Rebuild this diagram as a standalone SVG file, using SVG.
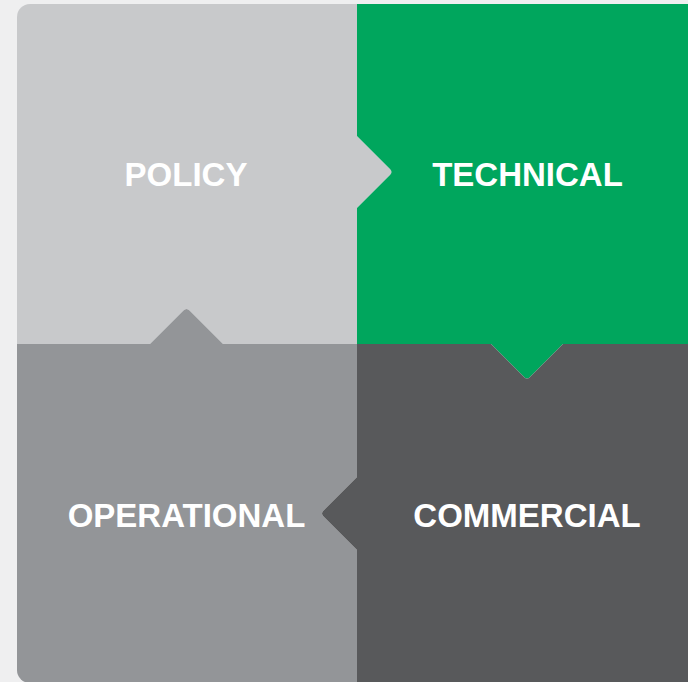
<svg xmlns="http://www.w3.org/2000/svg" width="688" height="682" viewBox="0 0 688 682">
  <style>
    .lbl { font-family: "Liberation Sans", Arial, sans-serif; font-weight: bold; font-size: 33px; fill: #ffffff; text-anchor: middle; }
  </style>
  <defs>
    <clipPath id="frame">
      <rect x="17" y="4" width="700" height="679" rx="13" ry="13"/>
    </clipPath>
  </defs>
  <rect x="0" y="0" width="688" height="682" fill="#efeff0"/>
  <g clip-path="url(#frame)">
    <g id="node-policy">
      <path fill="#c8c9cb" d="M17,4 H357 V136 L390,169 Q393,172 390,175 L357,208 V344 H223 L189.5,310.5 Q186.5,307.5 183.5,310.5 L150,344 H17 Z"/>
      <text class="lbl" x="186" y="185.5">POLICY</text>
    </g>
    <g id="node-technical">
      <path fill="#00a65d" d="M357,4 H720 V344 H563 L530,377 Q527,380 524,377 L491,344 H357 V208 L390,175 Q393,172 390,169 L357,136 Z"/>
      <text class="lbl" x="527.5" y="185.5">TECHNICAL</text>
    </g>
    <g id="node-operational">
      <path fill="#939598" d="M17,344 H150 L183.5,310.5 Q186.5,307.5 189.5,310.5 L223,344 H357 V477 L323.5,510.5 Q320.5,513.5 323.5,516.5 L357,550 V700 H17 Z"/>
      <text class="lbl" x="186.5" y="526.5">OPERATIONAL</text>
    </g>
    <g id="node-commercial">
      <path fill="#58595b" d="M357,344 H491 L524,377 Q527,380 530,377 L563,344 H720 V700 H357 V550 L323.5,516.5 Q320.5,513.5 323.5,510.5 L357,477 Z"/>
      <text class="lbl" x="527" y="526.5">COMMERCIAL</text>
    </g>
  </g>
  <g id="connectors"/>
</svg>
